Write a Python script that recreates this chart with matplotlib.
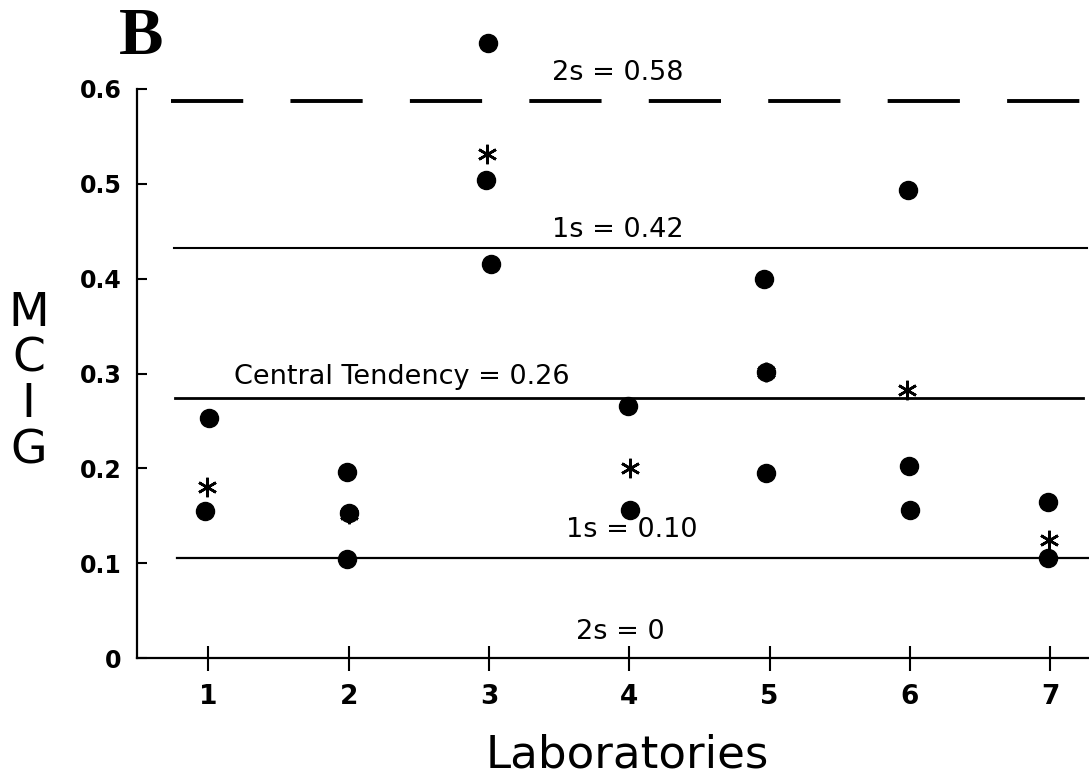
import matplotlib
matplotlib.use("Agg")
import matplotlib.pyplot as plt

plt.rcParams['font.family'] = ['DejaVu Sans']
plt.rcParams['lines.scale_dashes'] = False

# individual laboratory results (filled dots)
dot_x = [1.005, 0.98, 1.99, 2.005, 1.99, 2.993, 2.98, 3.016, 3.993, 4.005,
         4.96, 4.976, 4.976, 5.986, 5.993, 6.0, 6.988, 6.988]
dot_y = [0.253, 0.155, 0.196, 0.153, 0.104, 0.648, 0.504, 0.415, 0.266, 0.156,
         0.400, 0.302, 0.195, 0.494, 0.202, 0.156, 0.165, 0.105]

# laboratory means (asterisks)
star_x = [0.99, 2.005, 2.983, 4.005, 4.976, 5.981, 6.995]
star_y = [0.180, 0.152, 0.531, 0.200, 0.302, 0.283, 0.124]

labs = [1, 2, 3, 4, 5, 6, 7]
y_ticks = [0, 0.1, 0.2, 0.3, 0.4, 0.5, 0.6]
y_tick_labels = ["0", "0.1", "0.2", "0.3", "0.4", "0.5", "0.6"]

# reference levels: 2s upper, 1s upper, central tendency, 1s lower, 2s lower
ref_levels = [0.587, 0.432, 0.274, 0.105, 0.0]
ref_labels = ["2s = 0.58", "1s = 0.42", "Central Tendency = 0.26", "1s = 0.10", "2s = 0"]

fig = plt.figure(figsize=(10.89, 7.79), dpi=100)
ax = fig.add_axes([137 / 1089, 121 / 779, 952 / 1089, 569 / 779])

ax.set_xlim(0.492, 7.277)
ax.set_ylim(0, 0.6)

# reference lines
ax.plot([0.735, 7.234], [ref_levels[0]] * 2, color='black', lw=2.8,
        dashes=(52, 34), solid_capstyle='butt', clip_on=False)
ax.plot([0.755, 7.263], [ref_levels[1]] * 2, color='black', lw=1.5, clip_on=False)
ax.plot([0.763, 7.234], [ref_levels[2]] * 2, color='black', lw=2.0, clip_on=False)
ax.plot([0.775, 7.28], [ref_levels[3]] * 2, color='black', lw=1.6, clip_on=False)

# line labels
label_pos = [(3.92, 0.617), (3.92, 0.4515), (2.38, 0.2966), (4.02, 0.1348), (3.94, 0.0274)]
for (tx, ty), txt in zip(label_pos, ref_labels):
    ax.text(tx, ty, txt, ha='center', va='center', fontsize=19.5, color='black')

# data
ax.plot(star_x, star_y, linestyle='none', marker=(6, 2, 0), markersize=14,
        markeredgewidth=1.9, color='black', clip_on=False, zorder=3)
ax.plot(dot_x, dot_y, linestyle='none', marker='o', markersize=13,
        color='black', clip_on=False, zorder=4)

# axes styling
for side in ['top', 'right']:
    ax.spines[side].set_visible(False)
for side in ['left', 'bottom']:
    ax.spines[side].set_linewidth(1.6)

ax.set_xticks(labs)
ax.set_xticklabels([str(n) for n in labs], fontsize=19, fontweight='bold')
ax.set_yticks(y_ticks)
ax.set_yticklabels(y_tick_labels, fontsize=17, fontweight='bold')
ax.tick_params(axis='x', direction='inout', length=18, width=1.5, pad=10)
ax.tick_params(axis='y', direction='in', length=7, width=1.5, pad=11)

ax.set_xlabel("Laboratories", fontsize=32.5)
ax.xaxis.set_label_coords(490 / 952, -0.132)
ax.set_ylabel("M\nC\nI\nG", rotation=0, fontsize=34, ha='center', va='center',
              linespacing=1.02)
ax.yaxis.set_label_coords(-0.114, 0.485)

fig.text(141 / 1089, 1 - 38 / 779, "B", family='Liberation Serif', fontweight='bold',
         fontsize=48, ha='center', va='center')

fig.savefig("out.png", dpi=100, facecolor='white')
